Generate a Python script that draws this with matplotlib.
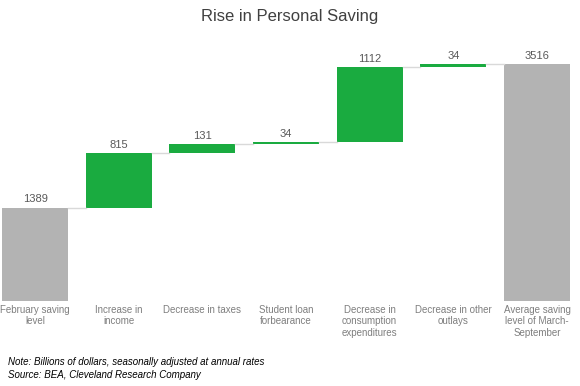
import matplotlib.pyplot as plt

plt.rcParams["font.family"] = ["Liberation Sans", "DejaVu Sans"]

labels = ["February saving\nlevel", "Increase in\nincome", "Decrease in taxes",
          "Student loan\nforbearance", "Decrease in\nconsumption\nexpenditures",
          "Decrease in other\noutlays", "Average saving\nlevel of March-\nSeptember"]
values = [1389, 815, 131, 34, 1112, 34, 3516]
is_total = [True, False, False, False, False, False, True]

green = "#1aab40"
grey = "#b3b3b3"

fig = plt.figure(figsize=(5.8, 3.86), dpi=100)
ax = fig.add_axes([2 / 580, 1 - 301 / 386, 568 / 580, 249 / 386])

w = 0.79
running = 0
tops = []
for i, (v, tot) in enumerate(zip(values, is_total)):
    if tot:
        bottom = 0
        running = v
        color = grey
    else:
        bottom = running
        running += v
        color = green
    ax.bar(i, v, bottom=bottom, width=w, color=color, edgecolor="none")
    top = bottom + v
    tops.append(top)
    ax.text(i, top + 45, str(v), ha="center", va="bottom", fontsize=8, color="#595959")

# connectors
for i in range(len(values) - 1):
    ax.plot([i + w / 2, i + 1 - w / 2], [tops[i], tops[i]], color="#d9d9d9", lw=1)

ax.set_xlim(-w / 2, len(values) - 1 + w / 2)
ax.set_ylim(0, 3700)
ax.axis("off")

for i, lab in enumerate(labels):
    ax.text(i, -55, lab, ha="center", va="top", fontsize=7, color="#7f7f7f",
            linespacing=1.2)

fig.text(0.5, 1 - 16 / 386, "Rise in Personal Saving", ha="center", va="center",
         fontsize=12, color="#404040")
fig.text(8 / 580, 1 - 362 / 386, "Note: Billions of dollars, seasonally adjusted at annual rates",
         fontsize=7, style="italic", va="center", color="#000000")
fig.text(8 / 580, 1 - 375 / 386, "Source: BEA, Cleveland Research Company",
         fontsize=7, style="italic", va="center", color="#000000")

fig.savefig("out.png", dpi=100)
